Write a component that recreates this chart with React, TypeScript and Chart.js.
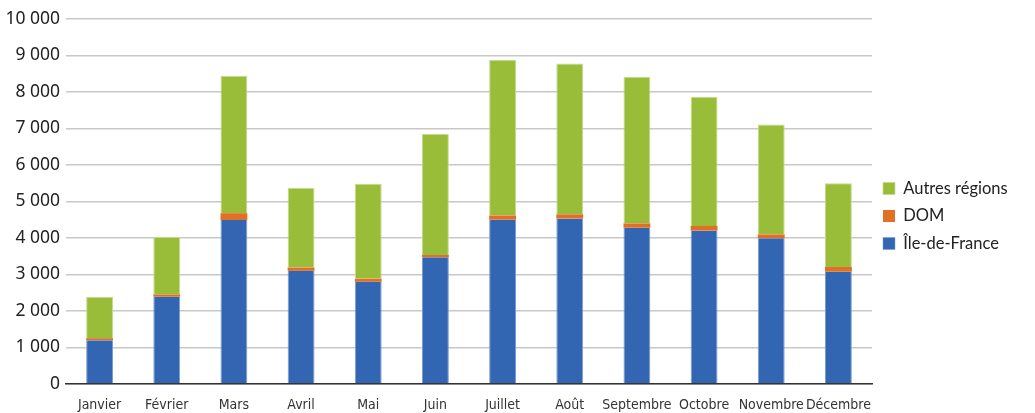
import React, { useEffect, useRef } from "react";
import { Chart, registerables } from "chart.js";

Chart.register(...registerables);

const categories = ["Janvier", "Février", "Mars", "Avril", "Mai", "Juin", "Juillet", "Août", "Septembre", "Octobre", "Novembre", "Décembre"];
const ileDeFrance = [1200, 2390, 4490, 3100, 2800, 3470, 4500, 4530, 4280, 4200, 3990, 3075];
const dom = [55, 65, 190, 92, 82, 64, 120, 120, 120, 130, 110, 130];
const autresRegions = [1130, 1570, 3760, 2175, 2595, 3315, 4260, 4130, 4020, 3540, 3010, 2295];
const yTicks = [0, 1000, 2000, 3000, 4000, 5000, 6000, 7000, 8000, 9000, 10000];

const fmt = (v: number) => String(v).replace(/\B(?=(\d{3})+(?!\d))/g, " ");

export default function App() {
  const ref = useRef<HTMLCanvasElement | null>(null);
  useEffect(() => {
    document.body.style.margin = "0";
    const legendWidthPlugin = {
      id: "legendWidth",
      beforeInit(chart: any) {
        const lg = chart.legend;
        if (!lg) return;
        const orig = lg.fit;
        lg.fit = function () {
          orig.call(this);
          this.width = 163;
        };
      },
    };
    const chart = new Chart(ref.current as HTMLCanvasElement, {
      type: "bar",
      data: {
        labels: categories,
        datasets: [
          { label: "Île-de-France", data: ileDeFrance, backgroundColor: "#3366b2", borderColor: "#7b9dd0", borderWidth: { left: 1, right: 1, top: 0, bottom: 0 }, borderSkipped: false },
          { label: "DOM", data: dom, backgroundColor: "#e07024", borderWidth: 0 },
          { label: "Autres régions", data: autresRegions, backgroundColor: "#99bd38", borderColor: "#c4dc8a", borderWidth: { left: 1, right: 1, top: 1, bottom: 0 }, borderSkipped: false },
        ],
      },
      plugins: [legendWidthPlugin],
      options: {
        animation: false,
        responsive: false,
        maintainAspectRatio: false,
        layout: { padding: { top: 19, left: 0, right: 0, bottom: 0 } },
        datasets: { bar: { categoryPercentage: 1, barPercentage: 0.4 } },
        plugins: {
          title: { display: false },
          tooltip: { enabled: false },
          legend: {
            position: "right",
            reverse: true,
            align: "center",
            labels: {
              boxWidth: 12,
              boxHeight: 12,
              padding: 11,
              color: "#222",
              font: { family: "Lato, 'Noto Sans', sans-serif", size: 16.5 },
            },
          },
        },
        scales: {
          x: {
            stacked: true,
            grid: { display: false },
            border: { display: true, color: "#333", width: 1.5 },
            afterFit(axis: any) {
              axis.height = 29;
              axis.paddingLeft = 0;
              axis.paddingRight = 0;
            },
            ticks: {
              color: "#333",
              font: { family: "'DejaVu Sans Condensed', sans-serif", size: 14 },
              maxRotation: 0,
              autoSkip: false,
              padding: 5,
            },
          },
          y: {
            stacked: true,
            min: 0,
            max: 10000,
            afterBuildTicks(axis: any) {
              axis.ticks = yTicks.map((v) => ({ value: v }));
            },
            afterFit(axis: any) {
              axis.width = 66;
              axis.paddingTop = 0;
              axis.paddingBottom = 0;
            },
            grid: { color: "#c8c8c8", lineWidth: 1.5, drawTicks: false },
            border: { display: false },
            ticks: {
              color: "#222",
              font: { family: "'Noto Sans', sans-serif", size: 17.5 },
              padding: 6,
              callback: (v: any) => fmt(Number(v)),
            },
          },
        },
      },
    });
    return () => chart.destroy();
  }, []);
  return (
    <div style={{ position: "absolute", left: 0, top: 0, width: 1035, height: 413 }}>
      <canvas ref={ref} width={1035} height={413} style={{ width: 1035, height: 413 }} />
    </div>
  );
}
